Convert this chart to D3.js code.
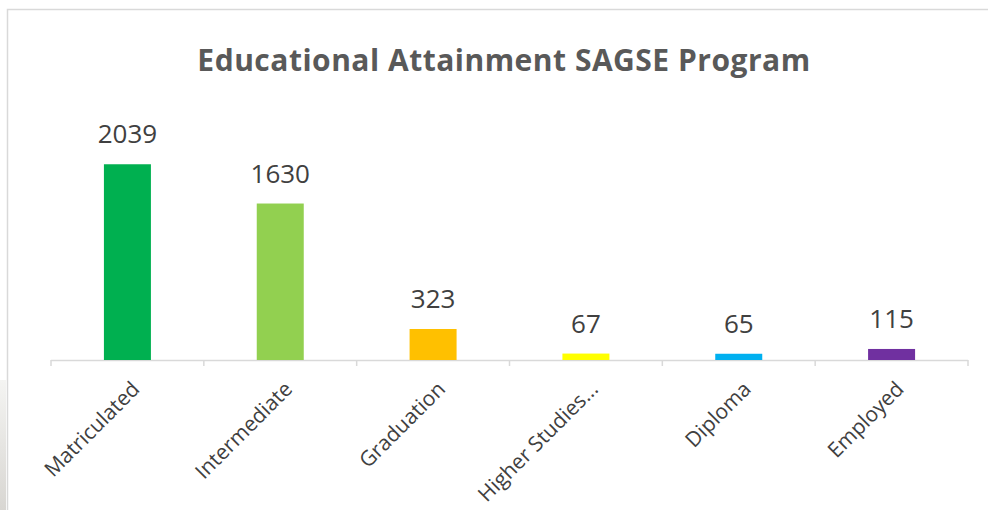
<!DOCTYPE html>
<html>
<head>
<meta charset="utf-8">
<script src="https://cdn.jsdelivr.net/npm/d3@7"></script>
<style>
  html, body { margin: 0; padding: 0; background: #fff; }
  svg { display: block; font-family: "Open Sans", "Noto Sans", sans-serif; }
</style>
</head>
<body>
<svg id="chart" width="988" height="510"></svg>
<script>
// chart data
const categories = ['Matriculated', 'Intermediate', 'Graduation', 'Higher Studies...', 'Diploma', 'Employed'];
const values = [2039, 1630, 323, 67, 65, 115];
const barColors = ['#00B050', '#92D050', '#FFC000', '#FFFF00', '#00B0F0', '#7030A0'];
const chartTitle = 'Educational Attainment SAGSE Program';

const width = 988, height = 510;
const svg = d3.select('#chart');

// faint shadow strip on the far left
const grad = svg.append('defs').append('linearGradient')
  .attr('id', 'shade').attr('x1', 0).attr('y1', 0).attr('x2', 0).attr('y2', 1);
grad.append('stop').attr('offset', '0%').attr('stop-color', '#f4f4f2');
grad.append('stop').attr('offset', '100%').attr('stop-color', '#d8d6d2');
svg.append('rect').attr('x', 0).attr('y', 380).attr('width', 6).attr('height', 130)
  .attr('fill', 'url(#shade)');

// chart frame
svg.append('rect')
  .attr('x', 7.5).attr('y', 9.5).attr('width', 1000).attr('height', 600)
  .attr('fill', '#fff').attr('stroke', '#d9d9d9').attr('stroke-width', 1.5);

// title
svg.append('text')
  .attr('x', 504).attr('y', 71)
  .attr('text-anchor', 'middle')
  .attr('font-size', 30).attr('font-weight', 'bold')
  .attr('letter-spacing', 0.5)
  .attr('fill', '#595959')
  .text(chartTitle);

// scales
const x = d3.scaleBand().domain(categories).range([51, 968]).paddingInner(0).paddingOuter(0);
const y = d3.scaleLinear().domain([0, 2500]).range([360, 120]);
const barW = 47;

// axis line and tick marks at band edges
const axisG = svg.append('g');
axisG.append('line')
  .attr('x1', x.range()[0]).attr('x2', x.range()[1])
  .attr('y1', y(0) + 0.5).attr('y2', y(0) + 0.5)
  .attr('stroke', '#d9d9d9').attr('stroke-width', 1.5);
const edges = categories.map(c => x(c)).concat([x.range()[1]]);
axisG.selectAll('line.tick').data(edges).join('line')
  .attr('class', 'tick')
  .attr('x1', d => d).attr('x2', d => d)
  .attr('y1', y(0)).attr('y2', y(0) + 6)
  .attr('stroke', '#d9d9d9').attr('stroke-width', 1.5);

// bars
svg.selectAll('rect.bar').data(values).join('rect')
  .attr('class', 'bar')
  .attr('x', (d, i) => x(categories[i]) + x.bandwidth() / 2 - barW / 2)
  .attr('y', d => y(d))
  .attr('width', barW)
  .attr('height', d => y(0) - y(d))
  .attr('fill', (d, i) => barColors[i]);

// value labels
svg.selectAll('text.val').data(values).join('text')
  .attr('class', 'val')
  .attr('x', (d, i) => x(categories[i]) + x.bandwidth() / 2)
  .attr('y', d => y(d) - 21)
  .attr('text-anchor', 'middle')
  .attr('font-size', 26)
  .attr('fill', '#404040')
  .text(d => d);

// rotated category labels
svg.selectAll('text.cat').data(categories).join('text')
  .attr('class', 'cat')
  .attr('transform', d => 'translate(' + (x(d) + x.bandwidth() / 2 + 1) + ',' + (y(0) + 18) + ') rotate(-45)')
  .attr('text-anchor', 'end')
  .attr('dominant-baseline', 'hanging')
  .attr('font-size', 21)
  .attr('fill', '#404040')
  .text(d => d);
</script>
</body>
</html>
